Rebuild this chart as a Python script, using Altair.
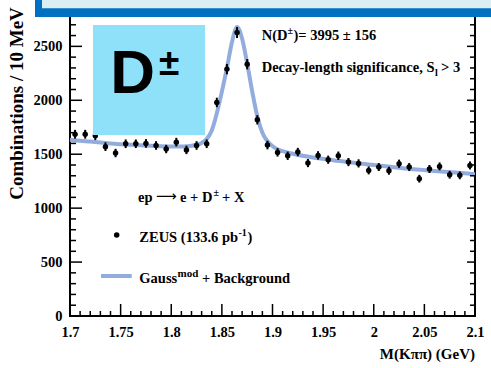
import altair as alt
import pandas as pd

# D± candidate invariant-mass distribution, 10 MeV bins
mass = [1.705, 1.715, 1.725, 1.735, 1.745, 1.755, 1.765, 1.775, 1.785, 1.795,
        1.805, 1.815, 1.825, 1.835, 1.845, 1.855, 1.865, 1.875, 1.885, 1.895,
        1.905, 1.915, 1.925, 1.935, 1.945, 1.955, 1.965, 1.975, 1.985, 1.995,
        2.005, 2.015, 2.025, 2.035, 2.045, 2.055, 2.065, 2.075, 2.085, 2.095]
counts = [1685, 1685, 1672, 1570, 1511, 1597, 1597, 1600, 1581, 1548,
          1612, 1540, 1581, 1597, 1980, 2289, 2628, 2335, 1819, 1585,
          1517, 1486, 1520, 1418, 1489, 1449, 1486, 1427, 1415, 1350,
          1381, 1347, 1412, 1381, 1273, 1363, 1387, 1310, 1304, 1396]
errors = [41, 41, 41, 40, 39, 40, 40, 40, 40, 39,
          40, 39, 40, 40, 44, 48, 51, 48, 43, 40,
          39, 39, 39, 38, 39, 38, 39, 38, 38, 37,
          37, 37, 38, 37, 36, 37, 37, 36, 36, 37]

# Fitted curve (modified Gaussian + background)
fit_mass = [1.700, 1.710, 1.720, 1.730, 1.740, 1.750, 1.760, 1.770, 1.780, 1.790,
            1.800, 1.810, 1.815, 1.820, 1.825, 1.830, 1.835, 1.840, 1.845, 1.850,
            1.855, 1.860, 1.865, 1.870, 1.875, 1.880, 1.885, 1.890, 1.895, 1.900,
            1.905, 1.910, 1.920, 1.940, 1.960, 1.980, 2.000, 2.020, 2.040, 2.060,
            2.080, 2.100]
fit_counts = [1635, 1625, 1617, 1608, 1600, 1593, 1587, 1582, 1578, 1574,
              1572, 1572, 1574, 1578, 1588, 1605, 1640, 1720, 1880, 2080,
              2300, 2540, 2680, 2570, 2340, 2080, 1850, 1700, 1620, 1575,
              1545, 1528, 1505, 1470, 1445, 1420, 1400, 1380, 1360, 1345,
              1330, 1315]

x_major = [1.7, 1.75, 1.8, 1.85, 1.9, 1.95, 2.0, 2.05, 2.1]
x_minor = [round(1.7 + 0.01 * i, 2) for i in range(41) if i % 5 != 0]
y_major = [0, 500, 1000, 1500, 2000, 2500]
y_minor = [v for v in range(0, 2801, 100) if v % 500 != 0]

W, H = 405, 302
SERIF = "Liberation Serif"
SANS = "Liberation Sans"
FIT_COLOR = "#93ACDE"
BOX_COLOR = "#8FE1FA"
BANNER_BLUE = "#0070C0"
BANNER_FILL = "#DAEEF3"

xs = alt.Scale(domain=[1.7, 2.1], nice=False, zero=False)
ys = alt.Scale(domain=[0, 2800], nice=False)

x_axis = alt.Axis(values=x_major, format=".2~f", ticks=False, tickSize=0, domain=False,
                  grid=False, labelFont=SERIF, labelFontWeight="bold", labelFontSize=14.5,
                  labelPadding=9, labelColor="black", labelFlush=False, labelOverlap=False,
                  title=None)
y_axis = alt.Axis(values=y_major, format="d", ticks=False, tickSize=0, domain=False,
                  grid=False, labelFont=SERIF, labelFontWeight="bold", labelFontSize=14.5,
                  labelPadding=8, labelColor="black", labelFlush=False, labelOverlap=False,
                  title=None)


def X(field):
    return alt.X(field, type="quantitative", scale=xs, axis=x_axis)


def Y(field):
    return alt.Y(field, type="quantitative", scale=ys, axis=y_axis)


data = pd.DataFrame({"m": mass, "n": counts, "e": errors})
data["lo"] = data["n"] - data["e"]
data["hi"] = data["n"] + data["e"]
fit = pd.DataFrame({"m": fit_mass, "n": fit_counts})
one = pd.DataFrame({"a": [0]})

fit_line = alt.Chart(fit).mark_line(color=FIT_COLOR, strokeWidth=4, interpolate="monotone").encode(
    x=X("m"), y=Y("n"))
err_bars = alt.Chart(data).mark_rule(color="black", strokeWidth=2).encode(
    x=X("m"), y=Y("lo"), y2="hi")
points = alt.Chart(data).mark_circle(color="black", size=30, opacity=1).encode(
    x=X("m"), y=Y("n"))


def tick_rules(values, orient, length):
    df = pd.DataFrame({"v": values})
    base = alt.Chart(df).mark_rule(color="black", strokeWidth=1.5)
    if orient == "left":
        return base.encode(y=Y("v"), x=alt.value(0), x2=alt.value(length))
    if orient == "right":
        return base.encode(y=Y("v"), x=alt.value(W - length), x2=alt.value(W))
    return base.encode(x=X("v"), y=alt.value(H - length), y2=alt.value(H))


ticks = [
    tick_rules(y_major, "left", 12), tick_rules(y_minor, "left", 6),
    tick_rules(y_major, "right", 8), tick_rules(y_minor, "right", 5),
    tick_rules(x_major, "bottom", 12), tick_rules(x_minor, "bottom", 5),
]


def txt(s, x, y, size=14.5, font=SERIF, align="left", baseline="alphabetic", angle=0,
        weight="bold"):
    return alt.Chart(one).mark_text(
        text=s, font=font, fontSize=size, fontWeight=weight, align=align,
        baseline=baseline, angle=angle, color="black").encode(x=alt.value(x), y=alt.value(y))


def rect(x, x2, y, y2, color):
    return alt.Chart(one).mark_rect(color=color, opacity=1).encode(
        x=alt.value(x), x2=alt.value(x2), y=alt.value(y), y2=alt.value(y2))


texts = [
    # fit result
    txt("N(D", 191.7, 26), txt("±", 217.5, 20, size=10), txt(")= 3995 ± 156", 223.5, 26),
    txt("Decay-length significance, S", 191.7, 57.7), txt("l", 365, 61.7, size=10),
    txt("> 3", 371, 57.7),
    # process and legend
    txt("ep", 68, 187.7),
    txt("⟶", 86, 187.2, size=14.5, font="DejaVu Sans", weight="normal"),
    txt("e + D", 110, 187.7), txt("±", 143.5, 181.7, size=10), txt("+ X", 152, 187.7),
    txt("ZEUS (133.6 pb", 69.3, 227.7), txt("-1", 168.5, 221.7, size=10),
    txt(")", 177.5, 227.7),
    txt("Gauss", 69.3, 269.3), txt("mod", 107.5, 262.5, size=11),
    txt("+ Background", 132, 269.3),
    # axis titles
    txt("Combinations / 10 MeV", -47, 89.5, size=19, align="center", angle=270),
    txt("M(Kππ) (GeV)", W, 345, size=15, align="right"),
]

legend_marks = [
    alt.Chart(one).mark_circle(color="black", size=30, opacity=1).encode(
        x=alt.value(46.7), y=alt.value(221)),
    alt.Chart(one).mark_rule(color=FIT_COLOR, strokeWidth=4).encode(
        x=alt.value(31), x2=alt.value(61.7), y=alt.value(262)),
]

label_box = [
    rect(23, 135, 11, 121, BOX_COLOR),
    txt("D", 40.3, 79, size=62, font=SANS),
    txt("±", 89, 61, size=37, font=SANS),
]

banner = [
    rect(-35, 430, -20, 3, BANNER_BLUE),
    rect(-28, 430, -20, -5.7, BANNER_FILL),
]

chart = alt.layer(
    fit_line, err_bars, points, *ticks, *legend_marks, *texts, *label_box, *banner
).properties(
    width=W, height=H,
    padding={"left": 70, "top": 14, "right": 16, "bottom": 52},
    autosize=alt.AutoSizeParams(type="none"),
).configure_view(
    stroke="black", strokeWidth=2
)

chart.save("out.html", embed_options={"renderer": "svg", "actions": False})
